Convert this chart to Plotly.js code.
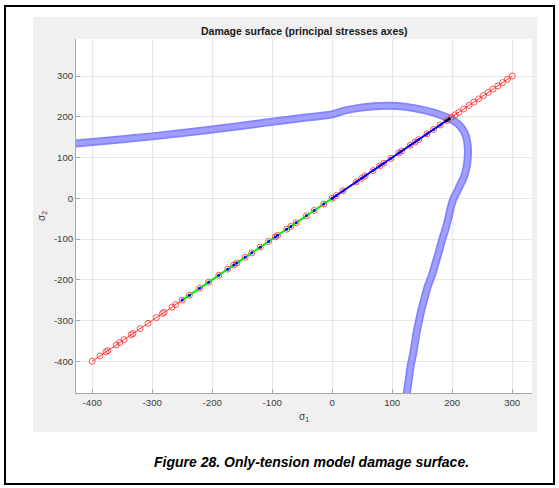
<!DOCTYPE html>
<html>
<head>
<meta charset="utf-8">
<script src="https://cdn.plot.ly/plotly-3.0.1.min.js"></script>
<style>html,body{margin:0;padding:0;background:#fff;}#chart{width:559px;height:488px;}</style>
</head>
<body>
<div id="chart"></div>
<script>
// Load path along sigma1 = sigma2 (red circles)
var loadPath = [-400,-387,-377,-374,-360,-354,-347,-335,-332,-320,-307,-293,-283,-280,-267,-261,-250,
  -238,-221,-206,-189,-174,-164,-159,-145,-134,-120,-106,-95,-91,-76,-69,-60,-43,-30,-14,0,
  7,18,40,49,55,68,79,86,98,111,116,130,138,144,158,169,180,191,199,205,211,219,228,236,244,
  252,260,268,276,284,292,300];
// Compression branch (green), tension branch (blue), damaged step (black)
var compressionPath = [-250,-238,-221,-206,-189,-174,-164,-159,-145,-134,-120,-106,-95,-91,-76,-69,-60,-43,-30,-14,0];
var tensionPath = [0,7,18,40,49,55,68,79,86,98,111,116,130,138,144,158,169,180,189];
var damagedPath = [189,197];
// Damage surface (blue band)
var surfS1 = [-430,-400,-350,-300,-250,-200,-150,-100,-50,-20,0,20,45,70,95,120,145,170,190,205,216,223,226,226,224,219,213,208,203,199,195,189,183,178,172,166,159,154,149,145,141,138,135,131,128,125,123];
var surfS2 = [134,138,145,152,160,169,178,188,197,202,206,215,222,226,227,225,219,210,199,188,172,152,126,102,77,50,32,16,2,-15,-40,-75,-103,-130,-160,-190,-217,-245,-272,-299,-327,-354,-381,-410,-440,-472,-490];
var xTicks = [-400,-300,-200,-100,0,100,200,300];
var yTicks = [-400,-300,-200,-100,0,100,200,300];

var L=76, R=27, T=39, B=95, W=559, H=488;
var PW=W-L-R, PH=H-T-B;
function px(x){return (x-L)/PW;}
function py(y){return (H-B-y)/PH;}

var traces = [
  {x:surfS1, y:surfS2, mode:'lines', line:{color:'rgba(100,100,255,0.8)', width:8, shape:'spline'}, hoverinfo:'skip'},
  {x:surfS1, y:surfS2, mode:'lines', line:{color:'rgba(160,160,255,0.95)', width:4.5, shape:'spline'}, hoverinfo:'skip'},
  {x:loadPath, y:loadPath, mode:'lines+markers', line:{color:'#ff0000', width:0.8},
   marker:{symbol:'circle-open', size:6, color:'rgba(255,40,40,0.8)', line:{width:1}}},
  {x:compressionPath, y:compressionPath, mode:'lines+markers', line:{color:'#00ee00', width:2},
   marker:{symbol:'circle', size:3, color:'#0000ff'}},
  {x:tensionPath, y:tensionPath, mode:'lines+markers', line:{color:'#0000ff', width:2},
   marker:{symbol:'circle', size:3, color:'#0000ff'}},
  {x:damagedPath, y:damagedPath, mode:'lines', line:{color:'#000000', width:2.5}}
];

var axisCommon = {
  showgrid:true, gridcolor:'#e6e6e6', gridwidth:1, zeroline:false,
  showline:true, linecolor:'#a8a8a8', linewidth:1,
  ticks:'inside', ticklen:4, tickcolor:'#a8a8a8',
  tickfont:{family:'Liberation Sans, Arial, sans-serif', size:9.6, color:'#3c3c3c'},
  fixedrange:true
};

var layout = {
  width:W, height:H,
  margin:{l:L, r:R, t:T, b:B, pad:0},
  paper_bgcolor:'#ffffff', plot_bgcolor:'rgba(0,0,0,0)',
  showlegend:false,
  xaxis:Object.assign({}, axisCommon, {range:[-427,333], tickvals:xTicks, ticktext:xTicks.map(String)}),
  yaxis:Object.assign({}, axisCommon, {range:[-478,391], tickvals:yTicks, ticktext:yTicks.map(String)}),
  shapes:[
    {type:'rect', xref:'paper', yref:'paper', x0:px(33), x1:px(537), y0:py(432), y1:py(17),
     fillcolor:'#f0f0f0', line:{width:0}, layer:'below'},
    {type:'rect', xref:'paper', yref:'paper', x0:0, x1:1, y0:0, y1:1,
     fillcolor:'#ffffff', line:{width:0}, layer:'below'},
    {type:'rect', xref:'paper', yref:'paper', x0:px(5), x1:px(554), y0:py(484), y1:py(6),
     fillcolor:'rgba(0,0,0,0)', line:{color:'#000000', width:2}, layer:'above'}
  ],
  annotations:[
    {text:'<b>Damage surface (principal stresses axes)</b>', xref:'paper', yref:'paper',
     x:px(304), y:py(31), xanchor:'center', yanchor:'middle', showarrow:false,
     font:{family:'Liberation Sans, Arial, sans-serif', size:10.5, color:'#1a1a1a'}},
    {text:'σ<sub>1</sub>', xref:'paper', yref:'paper', x:px(304), y:py(417),
     xanchor:'center', yanchor:'middle', showarrow:false,
     font:{family:'Liberation Sans, Arial, sans-serif', size:10, color:'#3c3c3c'}},
    {text:'σ<sub>2</sub>', xref:'paper', yref:'paper', x:px(42), y:py(216), textangle:-90,
     xanchor:'center', yanchor:'middle', showarrow:false,
     font:{family:'Liberation Sans, Arial, sans-serif', size:10, color:'#3c3c3c'}},
    {text:'<b><i>Figure 28. Only-tension model damage surface.</i></b>', xref:'paper', yref:'paper',
     x:px(311), y:py(462), xanchor:'center', yanchor:'middle', showarrow:false,
     font:{family:'Liberation Sans, Arial, sans-serif', size:14, color:'#000000'}}
  ]
};

Plotly.newPlot('chart', traces, layout, {displayModeBar:false, staticPlot:true});
</script>
</body>
</html>
